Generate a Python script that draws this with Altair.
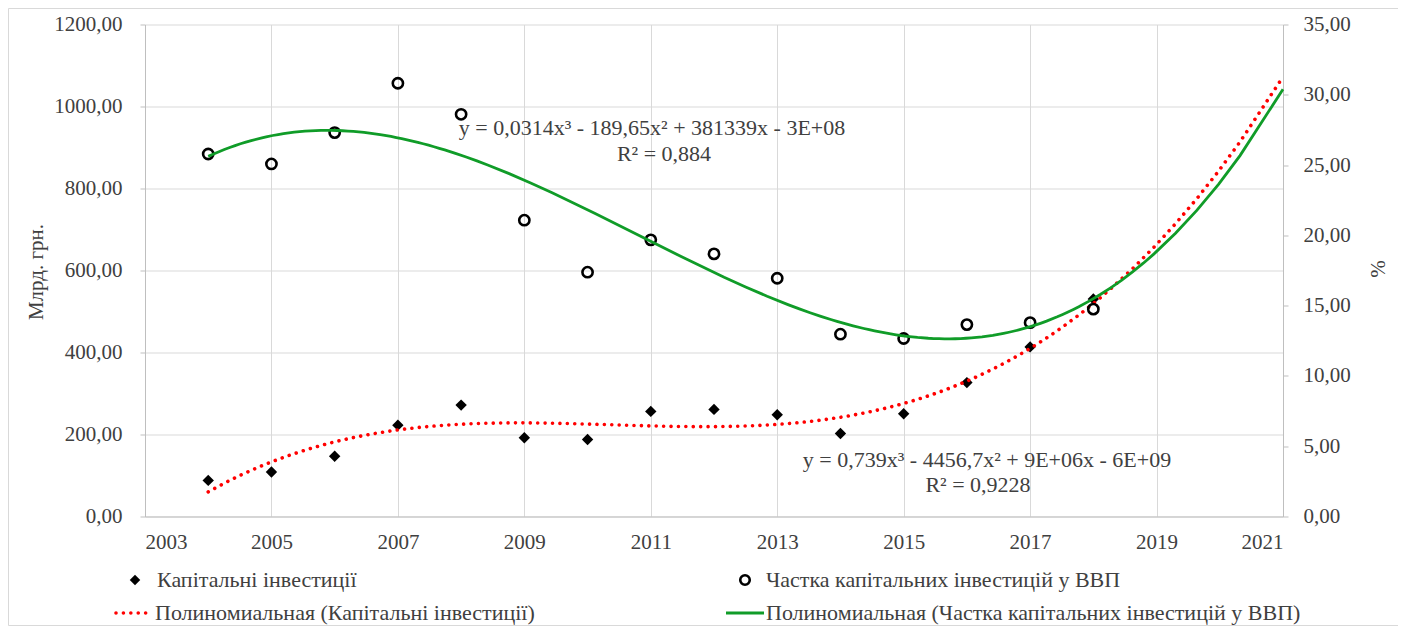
import altair as alt
import pandas as pd

# ---- data ----
years = [2004, 2005, 2006, 2007, 2008, 2009, 2010, 2011, 2012, 2013, 2014, 2015, 2016, 2017, 2018]
capex = [88.1, 108.7, 146.9, 222.8, 271.7, 191.9, 187.8, 256.3, 261.2, 248.2, 202.4, 250.7, 326.6, 413.7, 530.5]
share = [25.79, 25.08, 27.31, 30.82, 28.61, 21.08, 17.38, 19.68, 18.68, 16.95, 12.97, 12.66, 13.65, 13.79, 14.75]

x_ticks = [2003, 2005, 2007, 2009, 2011, 2013, 2015, 2017, 2019, 2021]
left_ticks = [0, 200, 400, 600, 800, 1000, 1200]
right_ticks = [0, 5, 10, 15, 20, 25, 30, 35]

legend_labels = [
    "Капітальні інвестиції",
    "Частка капітальних інвестицій у ВВП",
    "Полиномиальная (Капітальні інвестиції)",
    "Полиномиальная (Частка капітальних інвестицій у ВВП)",
]
eq_labels = [
    "y = 0,0314x³ - 189,65x² + 381339x - 3E+08",
    "R² = 0,884",
    "y = 0,739x³ - 4456,7x² + 9E+06x - 6E+09",
    "R² = 0,9228",
]
y_title_left = "Млрд. грн."
y_title_right = "%"

df = pd.DataFrame({"year": years, "capex": capex, "share": share})

FONT = "Liberation Serif"
TXT = "#404040"
GRID = "#d9d9d9"
AXL = "#bfbfbf"
RED = "#ff0000"
GREEN = "#109c28"
W, H = 1138, 492

lab_expr = "replace(format(datum.value, '.2f'), '.', ',')"

x_enc = alt.X(
    "year:Q",
    scale=alt.Scale(domain=[2003, 2021], nice=False, zero=False),
    axis=alt.Axis(values=x_ticks, format="d", title=None, grid=True, gridColor=GRID,
                  domainColor=AXL, ticks=False, labelPadding=15,
                  labelFont=FONT, labelFontSize=21, labelColor=TXT),
)

y_left = alt.Y(
    "capex:Q",
    scale=alt.Scale(domain=[0, 1200], nice=False),
    axis=alt.Axis(orient="left", values=left_ticks, labelExpr=lab_expr, grid=True, gridColor=GRID,
                  domainColor=AXL, tickColor=AXL, tickSize=5, labelPadding=18,
                  labelFont=FONT, labelFontSize=21, labelColor=TXT,
                  title=y_title_left, titleFont=FONT, titleFontSize=21, titleColor=TXT,
                  titleFontWeight="normal", titleAngle=-90, titleX=-109, titleY=247,
                  titleAlign="center", titleBaseline="middle"),
)

y_right = alt.Y(
    "share:Q",
    scale=alt.Scale(domain=[0, 35], nice=False),
    axis=alt.Axis(orient="right", values=right_ticks, labelExpr=lab_expr, grid=False,
                  domainColor=AXL, tickColor=AXL, tickSize=5, labelPadding=15,
                  labelFont=FONT, labelFontSize=21, labelColor=TXT,
                  title=y_title_right, titleFont=FONT, titleFontSize=21, titleColor=TXT,
                  titleFontWeight="normal", titleAngle=-90, titleX=95, titleY=244,
                  titleAlign="center", titleBaseline="middle"),
)

base = alt.Chart(df)

diamonds = base.mark_point(shape="diamond", filled=True, size=130, color="black", opacity=1).encode(
    x=x_enc, y=y_left)
red_fit = base.transform_regression("year", "capex", method="poly", order=3, extent=[2004, 2021]).mark_line(
    color=RED, strokeWidth=3.6, strokeDash=[0.01, 7.4], strokeCap="round").encode(x=x_enc, y=y_left)

circles = base.mark_point(shape="circle", filled=False, size=105, strokeWidth=2.6, color="black", opacity=1).encode(
    x=x_enc, y=y_right)
green_fit = base.transform_regression("year", "share", method="poly", order=3, extent=[2004, 2021]).mark_line(
    color=GREEN, strokeWidth=2.8).encode(x=x_enc, y=y_right)

left_group = alt.layer(diamonds, red_fit)
right_group = alt.layer(circles, green_fit)


def one(label):
    return alt.Chart(pd.DataFrame({"t": [label]}))


def text_at(label, x, y, size=22, align="left"):
    return one(label).mark_text(font=FONT, fontSize=size, color=TXT, align=align, baseline="middle").encode(
        text="t:N", x=alt.value(x), y=alt.value(y))


# legend
r1, r2 = 555.5, 588.5
leg = [
    one(legend_labels[0]).mark_point(shape="diamond", filled=True, size=110, color="black", opacity=1).encode(
        x=alt.value(-10), y=alt.value(r1)),
    text_at(legend_labels[0], 12, r1),
    one(legend_labels[1]).mark_point(shape="circle", filled=False, size=90, strokeWidth=2.6, color="black", opacity=1).encode(
        x=alt.value(600), y=alt.value(r1)),
    text_at(legend_labels[1], 621, r1),
    one(legend_labels[2]).mark_rule(color=RED, strokeWidth=3.6, strokeDash=[0.01, 7.4], strokeCap="round").encode(
        x=alt.value(-29), x2=alt.value(7), y=alt.value(r2)),
    text_at(legend_labels[2], 10, r2),
    one(legend_labels[3]).mark_rule(color=GREEN, strokeWidth=2.8).encode(
        x=alt.value(581), x2=alt.value(619), y=alt.value(r2)),
    text_at(legend_labels[3], 621, r2),
]

# trendline equations
eqs = [
    text_at(eq_labels[0], 507, 103.5, align="center"),
    text_at(eq_labels[1], 519, 129.5, align="center"),
    text_at(eq_labels[2], 842, 435.5, align="center"),
    text_at(eq_labels[3], 833, 460.5, align="center"),
]

frame = one("frame").mark_rect(fill=None, stroke="#d9d9d9", strokeWidth=1).encode(
    x=alt.value(-136.5), x2=alt.value(1253.5), y=alt.value(-16), y2=alt.value(601))

chart = alt.layer(frame, left_group, right_group, *leg, *eqs).resolve_scale(y="independent").properties(
    width=W, height=H,
    autosize=alt.AutoSizeParams(type="none"),
    padding={"left": 137, "top": 16.5, "right": 115, "bottom": 109},
).configure_view(stroke=None)

chart.save("out.html", embed_options={"renderer": "svg", "actions": False})
